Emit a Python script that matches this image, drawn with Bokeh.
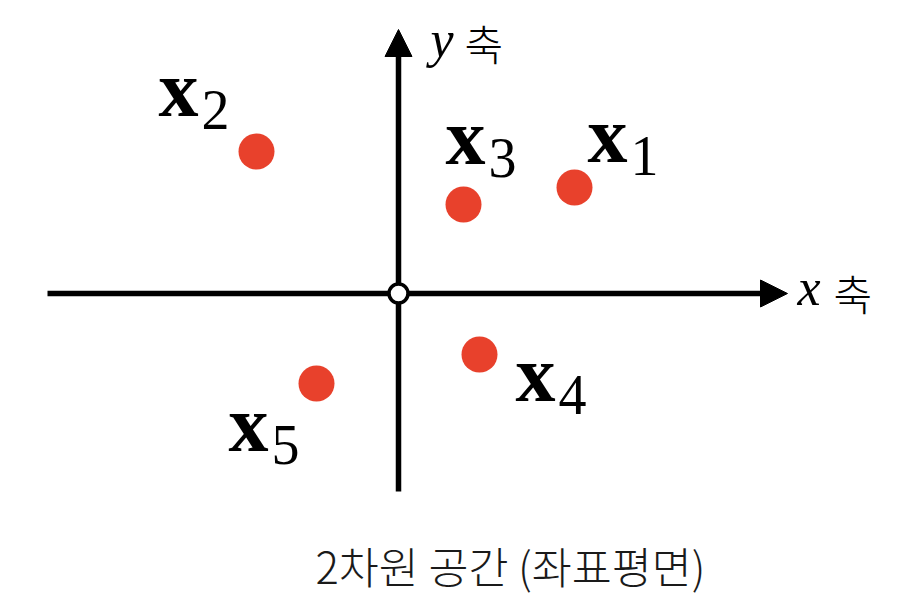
from bokeh.plotting import figure
from bokeh.models import Range1d, Arrow, NormalHead, Label, ColumnDataSource
from bokeh.core.properties import value
from bokeh.embed import file_html
from bokeh.resources import INLINE

# ---- data ----
point_x = [1.76, -1.42, 0.65, 0.81, -0.82]
point_y = [1.06, 1.42, 0.89, -0.61, -0.90]
base_labels = ["x", "x", "x", "x", "x"]
sub_labels = ["1", "2", "3", "4", "5"]
axis_x_extent = [-3.51, 3.89]
axis_y_extent = [-1.98, 2.64]
caption = "2차원 공간 (좌표평면)"
axis_word = "축"

# ---- label placement (screen px, relative to each point) ----
BASE_FIX = -29
SUB_FIX = -21
lab_dx = [13, -98, -18, 36, -88]
lab_dy = [-24, -34, -39, 48, 69]
sub_dx = [d + 43 for d in lab_dx]
sub_dy = [d + 13 + SUB_FIX for d in lab_dy]
lab_dy_adj = [d + BASE_FIX for d in lab_dy]

RED = "#e8412c"
SERIF = value("Liberation Serif")
LIGHT_NAME = "Noto Sans CJK KR Light"
LIGHT = value(LIGHT_NAME)

p = figure(width=901, height=612, output_backend="svg", toolbar_location=None,
           x_range=Range1d(-3.98, 5.03), y_range=Range1d(-3.19, 2.93),
           min_border=0, outline_line_color=None, background_fill_color="white",
           border_fill_color="white")
p.axis.visible = False
p.grid.visible = False

head_style = dict(fill_color="black", line_color="black", line_width=1)
p.add_layout(Arrow(x_start=axis_x_extent[0], y_start=0, x_end=axis_x_extent[1], y_end=0,
                   line_width=5.5, line_color="black", level="underlay",
                   end=NormalHead(size=27, **head_style)))
p.add_layout(Arrow(x_start=0, y_start=axis_y_extent[0], x_end=0, y_end=axis_y_extent[1],
                   line_width=5.5, line_color="black", level="underlay",
                   end=NormalHead(size=27, **head_style)))

# origin
p.scatter([0], [0], size=19, fill_color="white", line_color="black", line_width=3.5)

src = ColumnDataSource(dict(x=point_x, y=point_y, base=base_labels, sub=sub_labels,
                            dx=lab_dx, dy=lab_dy_adj, sdx=sub_dx, sdy=sub_dy))
p.scatter("x", "y", source=src, size=36, fill_color=RED, line_color=None)

p.text("x", "y", text="base", source=src, x_offset="dx", y_offset="dy",
       text_font=SERIF, text_font_style="bold", text_font_size="80px",
       text_baseline="alphabetic", text_align="left", text_color="black")
p.text("x", "y", text="sub", source=src, x_offset="sdx", y_offset="sdy",
       text_font=SERIF, text_font_size="56px",
       text_baseline="alphabetic", text_align="left", text_color="black")

# axis labels
p.text(x=[axis_x_extent[1]], y=[0], text=["x"], x_offset=10, y_offset=12 - 18,
       text_font=SERIF, text_font_style="italic", text_font_size="52px",
       text_baseline="alphabetic", text_align="left", text_color="black")
p.text(x=[axis_x_extent[1]], y=[0], text=[axis_word], x_offset=46, y_offset=16 - 17,
       text_font=LIGHT, text_font_size="42px",
       text_baseline="alphabetic", text_align="left", text_color="black")
p.text(x=[0], y=[axis_y_extent[1]], text=["y"], x_offset=32, y_offset=28 - 18,
       text_font=SERIF, text_font_style="italic", text_font_size="52px",
       text_baseline="alphabetic", text_align="left", text_color="black")
p.text(x=[0], y=[axis_y_extent[1]], text=[axis_word], x_offset=66, y_offset=30 - 17,
       text_font=LIGHT, text_font_size="42px",
       text_baseline="alphabetic", text_align="left", text_color="black")

p.add_layout(Label(x=510, y=47, x_units="screen", y_units="screen", text=caption,
                   text_font=LIGHT_NAME, text_font_size="43.5px", text_align="center",
                   text_baseline="alphabetic", text_color="#1a1a1a"))

open("out.html", "w").write(file_html(p, INLINE))
